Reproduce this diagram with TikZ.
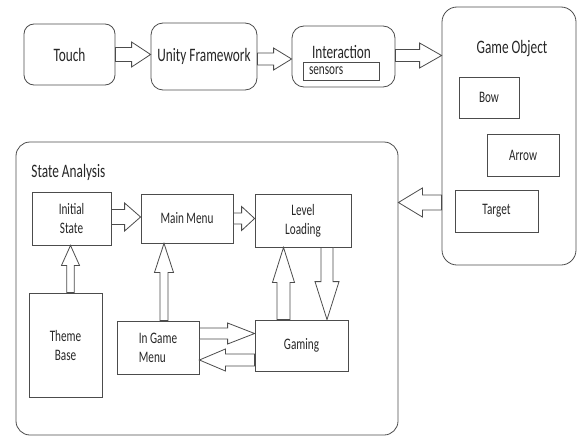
\documentclass[tikz,border=0pt]{standalone}
\usepackage{fontspec}
\setmainfont{Carlito}[FakeStretch=0.7]
\usepackage{tikz}
\usetikzlibrary{calc}
\usetikzlibrary{positioning}

\begin{document}
\begin{tikzpicture}[x=1pt, y=-1pt,
    line width=0.8pt, draw=black!70, text=black!85,
    bigtext/.style={font=\fontsize{19}{23}\selectfont},
    smalltext/.style={font=\fontsize{16}{19}\selectfont},
    roundbox/.style={draw=black!70, rounded corners=#1, inner sep=2pt},
    plainbox/.style={draw=black!70, inner sep=2pt, smalltext, align=center},
    blockarrow/.style n args={3}{draw=black!70, fill=white,
        to path={let \p1=(\tikztostart), \p2=(\tikztotarget),
            \n1={atan2(\y2-\y1,\x2-\x1)}, \n2={veclen(\x2-\x1,\y2-\y1)} in
            {[shift={(\p1)}, rotate=\n1, x=1pt, y=1pt]
            (0,-#1) -- ({\n2-#3},-#1) -- ({\n2-#3},-#2) -- (\n2,0)
            -- ({\n2-#3},#2) -- ({\n2-#3},#1) -- (0,#1) -- cycle}}}]
    \useasboundingbox (0,0) rectangle (580,436);

    \node[roundbox=10pt, bigtext, minimum width=91pt, minimum height=61pt] (touch) at (69.5,54.5) {Touch};
    \node[roundbox=12pt, bigtext, minimum width=106pt, minimum height=67pt] (unity) at (204,56.5) {Unity Framework};
    \node[roundbox=12pt, minimum width=103pt, minimum height=61pt] (inter) at (343.5,56.5) {};
    \node[bigtext, anchor=base, inner sep=0pt] (intertitle) at (341.5,59) {Interaction};
    \node[draw=black!70, smalltext, align=left, text width=64pt, inner xsep=6pt, inner ysep=0pt,
        minimum height=18pt] (sensors) at (341,71) {sensors};

    \node[roundbox=15pt, minimum width=134pt, minimum height=258pt] (gameobj) at (509,136) {};
    \node[bigtext, anchor=base, inner sep=0pt] (gotitle) at (512,53) {Game Object};
    \node[plainbox, minimum width=60pt, minimum height=41pt] (bow) at (489,97.5) {Bow};
    \node[plainbox, minimum width=72pt, minimum height=42pt] (arrowbox) at (523,155) {Arrow};
    \node[plainbox, minimum width=83pt, minimum height=42pt] (target) at (496.5,211) {Target};

    \node[roundbox=14pt, minimum width=382pt, minimum height=293pt] (state) at (207,288.5) {};
    \node[bigtext, anchor=base west, inner sep=0pt] (statetitle) at (31,177) {State Analysis};
    \node[plainbox, minimum width=79pt, minimum height=53pt] (initial) at (71.5,218.5) {Initial\\State};
    \node[plainbox, minimum width=92pt, minimum height=49pt] (mainmenu) at (187,218.5) {Main Menu};
    \node[plainbox, minimum width=96pt, minimum height=53pt] (level) at (303,220.5) {Level\\Loading};
    \node[plainbox, minimum width=73pt, minimum height=104pt] (theme) at (65.5,345) {Theme\\Base};
    \node[plainbox, align=left, minimum width=82pt, minimum height=53pt] (ingame) at (158,347.5) {In Game\\Menu};
    \node[plainbox, minimum width=93pt, minimum height=51pt] (gaming) at (301.5,345.5) {Gaming};

    \draw[blockarrow={7}{12.5}{19}] (touch.east) to (touch.east -| unity.west);
    \draw[blockarrow={6}{11}{18}] ([yshift=-2.5pt]unity.east) to ([yshift=-2.5pt]unity.east -| inter.west);
    \draw[blockarrow={6}{12.5}{22}] ([yshift=1pt]inter.east) to ([yshift=1pt]inter.east -| gameobj.west);
    \draw[blockarrow={7.5}{14.5}{24}] ([yshift=8.5pt]target.west -| gameobj.west) to ([yshift=8.5pt]target.west -| state.east);

    \draw[blockarrow={7.5}{14}{16}] ([yshift=1.5pt]initial.east) to ([yshift=1.5pt]initial.east -| mainmenu.west);
    \draw[blockarrow={5.5}{12}{13}] (mainmenu.east) to (mainmenu.east -| level.west);
    \draw[blockarrow={3.7}{9}{20}] ([xshift=5pt]theme.north) to ([xshift=5pt]theme.north |- initial.south);
    \draw[blockarrow={4}{9.5}{29}] ([xshift=6pt]ingame.north) to ([xshift=6pt]ingame.north |- mainmenu.south);
    \draw[blockarrow={6.5}{11}{35}] ([xshift=-18pt]gaming.north) to ([xshift=-18pt]gaming.north |- level.south);
    \draw[blockarrow={6}{12}{38}] ([xshift=24pt]level.south) to ([xshift=24pt]level.south |- gaming.north);
    \draw[blockarrow={5.5}{10.5}{27}] ([yshift=14pt]ingame.east) to ([yshift=14pt]ingame.east -| gaming.west);
    \draw[blockarrow={6}{11}{26}] ([yshift=-14.5pt]gaming.west) to ([yshift=-14.5pt]gaming.west -| ingame.east);
\end{tikzpicture}
\end{document}
